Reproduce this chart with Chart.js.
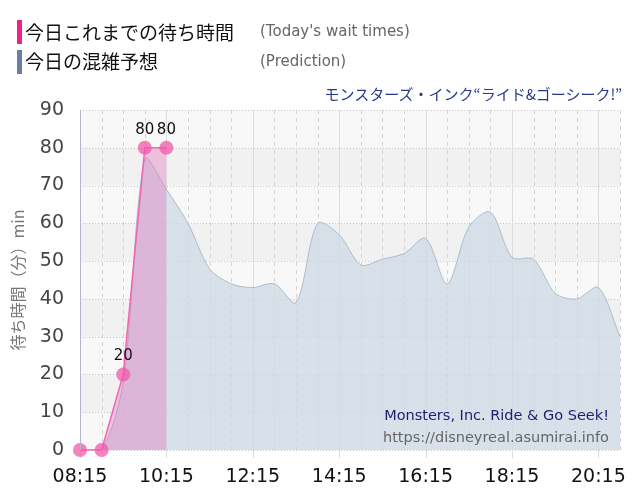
<!DOCTYPE html>
<html>
<head>
<meta charset="utf-8">
<script src="https://cdn.jsdelivr.net/npm/chart.js@4.4.0/dist/chart.umd.min.js"></script>
<style>
  body { margin: 0; background: #fff; }
  #wrap { position: relative; width: 640px; height: 500px; overflow: hidden; }
  canvas { position: absolute; left: 0; top: 0; }
  .bar { position: absolute; left: 17px; width: 5px; height: 24px; }
  .lg { position: absolute; left: 25px; font: 19px "Noto Sans CJK JP", sans-serif; color: #111; line-height: 24px; }
  .en { position: absolute; left: 260px; font: 15px "DejaVu Sans", sans-serif; color: #666; line-height: 24px; }
  .ride { position: absolute; right: 18px; top: 84px; font: 15px "Noto Sans CJK JP", sans-serif; color: #283a8c; line-height: 20px; }
  .mark { position: absolute; right: 31px; font: 14.5px "DejaVu Sans", sans-serif; line-height: 20px; text-align: right; }
</style>
</head>
<body>
<div id="wrap">
  <canvas id="chart" width="640" height="500"></canvas>
  <div class="bar" style="top:20px;background:#f0208a"></div>
  <div class="lg" style="top:20px">今日これまでの待ち時間</div>
  <div class="en" style="top:19px">(Today's wait times)</div>
  <div class="bar" style="top:50px;background:#6a7fa8"></div>
  <div class="lg" style="top:49px">今日の混雑予想</div>
  <div class="en" style="top:49px">(Prediction)</div>
  <div class="ride">モンスターズ・インク“ライド&amp;ゴーシーク!”</div>
  <div class="mark" style="top:405px;color:#1a1f6e">Monsters, Inc. Ride &amp; Go Seek!</div>
  <div class="mark" style="top:427px;color:#666">https://disneyreal.asumirai.info</div>
</div>
<script>
// 30分刻みの時刻
const times = ['08:15', '08:45', '09:15', '09:45', '10:15', '10:45', '11:15', '11:45',
  '12:15', '12:45', '13:15', '13:45', '14:15', '14:45', '15:15', '15:45',
  '16:15', '16:45', '17:15', '17:45', '18:15', '18:45', '19:15', '19:45',
  '20:15', '20:45'];

// 今日これまでの待ち時間
const waitTimes = [0, 0, 20, 80, 80];

// 今日の混雑予想
const prediction = [0, 0, 18, 77, 69, 60, 48, 44, 43, 44, 39, 60, 57, 49,
  50.5, 52, 56, 44, 59, 63, 51, 50.5, 41.5, 40, 43, 30];

const yTicks = [0, 10, 20, 30, 40, 50, 60, 70, 80, 90];
const labelEvery = 4;

// 背景の帯とグリッド線
const gridPlugin = {
  id: 'gridBack',
  beforeDatasetsDraw(chart) {
    const { ctx, chartArea: a, scales: { x, y } } = chart;
    ctx.save();
    ctx.fillStyle = '#f8f8f8';
    ctx.fillRect(a.left, a.top, a.right - a.left, a.bottom - a.top);
    ctx.fillStyle = '#f1f1f1';
    for (let v = 10; v < 90; v += 20) {
      const top = y.getPixelForValue(v + 10), bot = y.getPixelForValue(v);
      ctx.fillRect(a.left, top, a.right - a.left, bot - top);
    }
    ctx.lineWidth = 1;
    // 横線
    ctx.strokeStyle = '#c8c8c8';
    ctx.setLineDash([1, 2]);
    yTicks.forEach(v => {
      const py = Math.round(y.getPixelForValue(v)) + 0.5;
      ctx.beginPath(); ctx.moveTo(a.left, py); ctx.lineTo(a.right, py); ctx.stroke();
    });
    // 縦線
    times.forEach((t, i) => {
      const px = Math.round(x.getPixelForValue(i)) + 0.5;
      if (i % labelEvery === 0) {
        ctx.setLineDash([]);
        ctx.strokeStyle = '#dcdcdc';
      } else {
        ctx.setLineDash([4, 4]);
        ctx.strokeStyle = '#d4d4d4';
      }
      ctx.beginPath(); ctx.moveTo(px, a.top); ctx.lineTo(px, a.bottom + (i % labelEvery === 0 ? 8 : 0)); ctx.stroke();
    });
    ctx.restore();
  },
  afterDatasetsDraw(chart) {
    const { ctx, chartArea: a } = chart;
    ctx.save();
    ctx.strokeStyle = '#b4b4d0';
    ctx.lineWidth = 1;
    ctx.beginPath();
    ctx.moveTo(a.left + 0.5, a.top);
    ctx.lineTo(a.left + 0.5, a.bottom);
    ctx.stroke();
    ctx.restore();
  }
};

// 待ち時間の数値ラベル
const valueLabels = {
  id: 'valueLabels',
  afterDatasetsDraw(chart) {
    const { ctx } = chart;
    const meta = chart.getDatasetMeta(0);
    ctx.save();
    ctx.font = '15px "DejaVu Sans", sans-serif';
    ctx.fillStyle = '#111';
    ctx.textAlign = 'center';
    ctx.textBaseline = 'middle';
    meta.data.forEach((pt, i) => {
      const v = waitTimes[i];
      if (v == null || v === 0) return;
      ctx.fillText(String(v), pt.x, pt.y - 18);
    });
    ctx.restore();
  }
};

new Chart(document.getElementById('chart'), {
  type: 'line',
  data: {
    labels: times,
    datasets: [
      {
        label: '今日これまでの待ち時間',
        data: waitTimes,
        borderColor: 'rgba(245,90,170,0.9)',
        borderWidth: 1.5,
        backgroundColor: 'rgba(230,110,190,0.38)',
        fill: 'origin',
        tension: 0,
        clip: false,
        pointRadius: 7,
        pointBackgroundColor: 'rgba(240,90,170,0.75)',
        pointBorderWidth: 0
      },
      {
        label: '今日の混雑予想',
        data: prediction,
        borderColor: 'rgba(150,170,190,0.7)',
        borderWidth: 1,
        backgroundColor: 'rgba(205,218,230,0.75)',
        fill: 'origin',
        tension: 0.3,
        pointRadius: 0
      }
    ]
  },
  options: {
    responsive: false,
    devicePixelRatio: 1,
    animation: false,
    layout: { padding: { top: 110, right: 20, left: 0, bottom: 0 } },
    plugins: {
      legend: { display: false },
      tooltip: { enabled: false }
    },
    scales: {
      x: {
        grid: { display: false },
        border: { display: false },
        ticks: {
          autoSkip: false,
          maxRotation: 0,
          padding: 8,
          color: '#111',
          font: { size: 19, family: '"DejaVu Sans", sans-serif' },
          callback: (v, i) => (i % labelEvery === 0 ? times[i] : '')
        },
        afterFit: s => { s.height = 50; }
      },
      y: {
        min: 0,
        max: 90,
        grid: { display: false, drawTicks: false },
        border: { display: false },
        ticks: {
          stepSize: 10,
          padding: 16,
          color: '#444',
          font: { size: 19, family: '"DejaVu Sans", sans-serif' }
        },
        title: {
          display: true,
          text: '待ち時間（分）min',
          color: '#777',
          padding: { top: 8, bottom: 0 },
          font: { size: 16, family: '"Noto Sans CJK JP", sans-serif' }
        },
        afterFit: s => { s.width = 80; }
      }
    }
  },
  plugins: [gridPlugin, valueLabels]
});
</script>
</body>
</html>
